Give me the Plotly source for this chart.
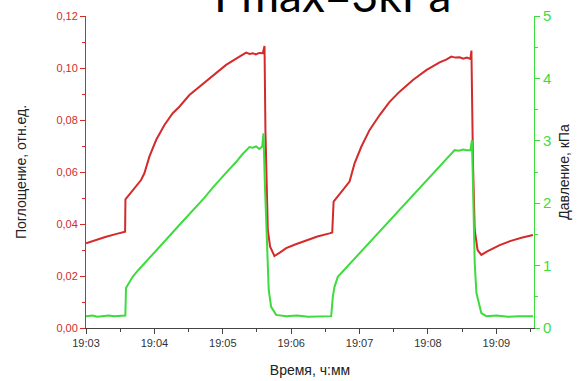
import pandas as pd
import plotly.graph_objects as go

# Absorbance trace: seconds after 19:03:00 and value (rel. units)
red_t = [0, 8, 17.6, 26, 34.3, 34.6, 40.9, 44.5, 48.3, 51.2, 55.6, 61.5, 68.8, 76.1,
         81.9, 90.7, 99.5, 111.2, 122.9, 134.6, 140.5, 143.5, 146.3, 149, 152, 155.1,
         156.6, 157.4, 159.5, 161.5, 165.3, 170, 175.6, 184, 193.2, 203, 213.6, 216,
         217.2, 225.3, 231.2, 235.6, 241.5, 248.8, 257.6, 266.3, 275.1, 286.8, 298.5,
         310.2, 316, 320.5, 324, 327.8, 331, 334, 337.2, 338.1, 339.5, 341, 343.5,
         346.8, 352, 362.9, 372, 382, 392.1]
red_v = [0.0326, 0.0338, 0.0351, 0.0361, 0.0370, 0.0495, 0.0531, 0.0548, 0.0569, 0.0595,
         0.0659, 0.0723, 0.0781, 0.0826, 0.0851, 0.0896, 0.0928, 0.0973, 0.1012, 0.1044,
         0.1059, 0.1054, 0.1057, 0.1052, 0.1058, 0.1057, 0.1085, 0.0760, 0.0377, 0.0313,
         0.0277, 0.0290, 0.0307, 0.0322, 0.0338, 0.0352, 0.0364, 0.0367, 0.0486, 0.0531,
         0.0563, 0.0633, 0.0697, 0.0762, 0.0819, 0.0870, 0.0909, 0.0954, 0.0992, 0.1022,
         0.1032, 0.1044, 0.1040, 0.1041, 0.1036, 0.1040, 0.1035, 0.1067, 0.0630, 0.0377,
         0.0300, 0.0281, 0.0295, 0.0319, 0.0334, 0.0347, 0.0358]

# Pressure trace: seconds after 19:03:00 and value (kPa)
green_t = [0, 6, 10, 15, 20, 25, 30, 34.5, 35.1, 38, 40.9, 46, 52.7, 60, 67, 74, 81.9,
           90, 97, 104, 111.2, 118, 125, 131.7, 137, 143.4, 146, 149.3, 152, 154.6, 155.7,
           156.8, 158.6, 160.3, 162.4, 166.8, 175.6, 185, 195, 205, 215.1, 216.5, 218,
           220.9, 230, 238, 245.9, 255, 265, 275.1, 285, 295, 304.3, 310, 316.1, 323.4,
           327, 331, 334, 337.2, 338.6, 339.5, 341, 342.5, 346.8, 351.2, 360, 370, 380,
           392.1]
green_v = [0.19, 0.20, 0.18, 0.19, 0.20, 0.19, 0.19, 0.20, 0.64, 0.72, 0.82, 0.93, 1.06,
           1.21, 1.34, 1.49, 1.65, 1.81, 1.96, 2.09, 2.25, 2.38, 2.53, 2.66, 2.78, 2.90,
           2.89, 2.91, 2.87, 2.91, 3.12, 2.37, 1.30, 0.61, 0.34, 0.21, 0.19, 0.20, 0.18,
           0.19, 0.19, 0.50, 0.66, 0.82, 1.00, 1.16, 1.31, 1.49, 1.69, 1.89, 2.08, 2.29,
           2.47, 2.58, 2.70, 2.85, 2.84, 2.86, 2.85, 2.85, 3.01, 2.10, 1.04, 0.56, 0.24,
           0.19, 0.20, 0.18, 0.19, 0.19]

x_tick_labels = ["19:03", "19:04", "19:05", "19:06", "19:07", "19:08", "19:09"]

base = pd.Timestamp("2000-01-01 19:03:00")
red_x = [base + pd.Timedelta(seconds=s) for s in red_t]
green_x = [base + pd.Timedelta(seconds=s) for s in green_t]
tick_vals = [pd.Timestamp("2000-01-01 " + lbl) for lbl in x_tick_labels]

RED = "#d42a2a"
GREEN = "#3ddc3d"
FONT = "Liberation Sans"

fig = go.Figure()
fig.add_trace(go.Scatter(x=red_x, y=red_v, mode="lines",
                         line=dict(color=RED, width=2), yaxis="y"))
fig.add_trace(go.Scatter(x=green_x, y=green_v, mode="lines",
                         line=dict(color=GREEN, width=2), yaxis="y2"))

fig.update_layout(
    width=580, height=381,
    margin=dict(l=86, r=46, t=16, b=53),
    paper_bgcolor="white", plot_bgcolor="white",
    showlegend=False,
    font=dict(family=FONT, size=11, color="#333333"),
    xaxis=dict(
        range=[base, base + pd.Timedelta(seconds=393)],
        tickvals=tick_vals, ticktext=x_tick_labels,
        ticks="outside", ticklen=5, tickcolor="#444444", tickwidth=1,
        minor=dict(dtick=30000, ticks="outside", ticklen=3, tickcolor="#444444"),
        showline=True, linecolor="#444444", linewidth=1,
        showgrid=False, zeroline=False, automargin=False,
        tickfont=dict(family=FONT, size=11, color="#333333"),
        title=dict(text="Время, ч:мм", font=dict(family=FONT, size=14, color="#222222"),
                   standoff=16),
    ),
    yaxis=dict(
        range=[0, 0.12], dtick=0.02, tickformat=".2f",
        ticks="outside", ticklen=5, tickcolor=RED,
        minor=dict(dtick=0.01, ticks="outside", ticklen=3, tickcolor=RED),
        showline=True, linecolor=RED, linewidth=1,
        showgrid=False, zeroline=False, automargin=False,
        tickfont=dict(family=FONT, size=11, color=RED),
        title=dict(text="Поглощение, отн.ед.", font=dict(family=FONT, size=14, color="#222222"),
                   standoff=26),
    ),
    yaxis2=dict(
        range=[0, 5], dtick=1, overlaying="y", side="right",
        ticks="outside", ticklen=5, tickcolor=GREEN,
        minor=dict(dtick=0.5, ticks="outside", ticklen=3, tickcolor=GREEN),
        showline=True, linecolor=GREEN, linewidth=1,
        showgrid=False, zeroline=False, automargin=False,
        tickfont=dict(family=FONT, size=15, color=GREEN),
        title=dict(text="Давление, кПа", font=dict(family=FONT, size=14, color="#222222"),
                   standoff=8),
    ),
    separators=", ",
    annotations=[dict(
        text="Pmax=3kPa", xref="paper", yref="paper", x=0.55, y=0.975,
        xanchor="center", yanchor="bottom", showarrow=False,
        font=dict(family="Lato", size=46, color="#000000"),
    )],
)

fig.write_html("out.html")
